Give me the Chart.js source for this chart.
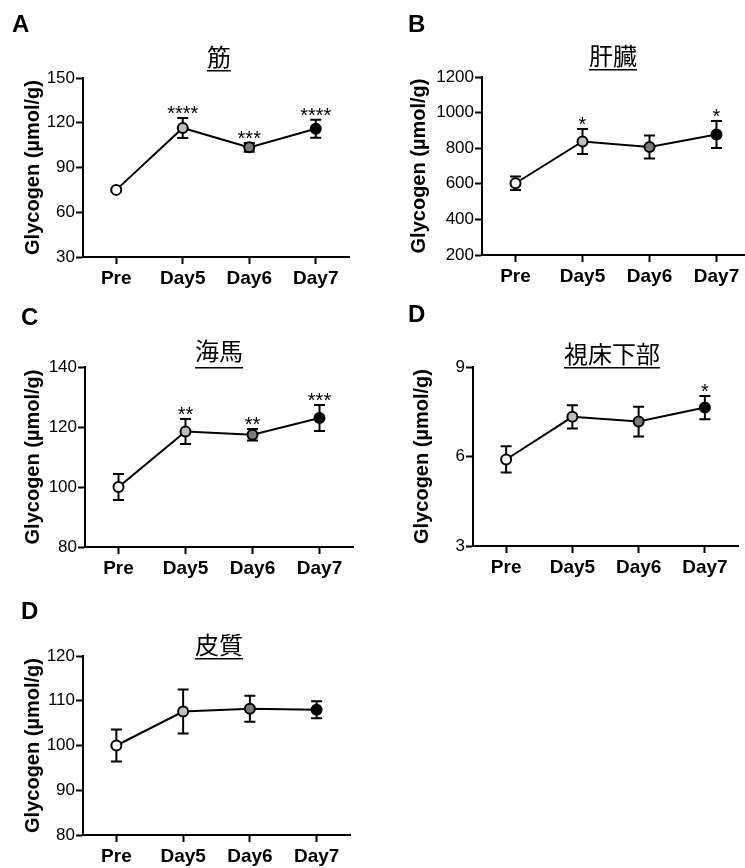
<!DOCTYPE html>
<html lang="ja">
<head>
<meta charset="UTF-8">
<title>Glycogen time course</title>
<script src="https://cdn.jsdelivr.net/npm/chart.js"></script>
<style>
  html, body { margin: 0; padding: 0; background: #fff; overflow: hidden; }
  body { width: 745px; height: 868px; position: relative; }
  canvas { position: absolute; }
</style>
</head>
<body>
<canvas id="chartA" width="372" height="290" style="left:0;top:0"></canvas>
<canvas id="chartB" width="400" height="290" style="left:372px;top:0"></canvas>
<canvas id="chartC" width="372" height="290" style="left:0;top:290px"></canvas>
<canvas id="chartD" width="373" height="290" style="left:372px;top:290px"></canvas>
<canvas id="chartE" width="372" height="288" style="left:0;top:580px"></canvas>

<script>
// shared
const categories = ['Pre', 'Day5', 'Day6', 'Day7'];
const pointColors = ['#ffffff', '#bebebe', '#7a7a7a', '#000000'];

// A: 筋
const muscleMean = [75, 116.5, 103.5, 116];
const muscleErr = [1, 6.7, 3, 6];
const muscleStars = ['', '****', '***', '****'];
const muscleTicks = [30, 60, 90, 120, 150];

// B: 肝臓
const liverMean = [603, 838, 807, 877];
const liverErr = [38, 70, 65, 76];
const liverStars = ['', '*', '', '*'];
const liverTicks = [200, 400, 600, 800, 1000, 1200];

// C: 海馬
const hippoMean = [100, 118.5, 117.4, 123];
const hippoErr = [4.3, 4.2, 1.9, 4.3];
const hippoStars = ['', '**', '**', '***'];
const hippoTicks = [80, 100, 120, 140];

// D: 視床下部
const hypoMean = [5.9, 7.33, 7.17, 7.64];
const hypoErr = [0.44, 0.39, 0.5, 0.39];
const hypoStars = ['', '', '', '*'];
const hypoTicks = [3, 6, 9];

// D (second): 皮質
const cortexMean = [100, 107.6, 108.2, 108];
const cortexErr = [3.6, 4.9, 2.9, 1.9];
const cortexStars = ['', '', '', ''];
const cortexTicks = [80, 90, 100, 110, 120];

const SANS = '"Liberation Sans", Arial, sans-serif';
const CJK = '"Noto Sans CJK JP", sans-serif';

// error bars + significance stars, drawn under the points
const errorBars = {
  id: 'errorBars',
  beforeDatasetsDraw(chart, args, opts) {
    const { ctx, scales: { x, y } } = chart;
    const values = chart.data.datasets[0].data;
    ctx.save();
    ctx.strokeStyle = '#000';
    ctx.lineWidth = 2;
    ctx.font = '20px ' + SANS;
    ctx.fillStyle = '#000';
    ctx.textAlign = 'center';
    ctx.textBaseline = 'alphabetic';
    values.forEach((v, i) => {
      const e = opts.errors[i];
      const px = x.getPixelForValue(i);
      const top = y.getPixelForValue(v + e);
      const bot = y.getPixelForValue(v - e);
      ctx.beginPath();
      ctx.moveTo(px, top); ctx.lineTo(px, bot);
      ctx.moveTo(px - 5.5, top); ctx.lineTo(px + 5.5, top);
      ctx.moveTo(px - 5.5, bot); ctx.lineTo(px + 5.5, bot);
      ctx.stroke();
      if (opts.stars[i]) ctx.fillText(opts.stars[i], px, top + 2);
    });
    ctx.restore();
  }
};

// panel letter and underlined title
const panelText = {
  id: 'panelText',
  afterDraw(chart, args, opts) {
    const ctx = chart.ctx;
    ctx.save();
    ctx.fillStyle = '#000';
    ctx.font = 'bold 24px ' + SANS;
    ctx.textAlign = 'left';
    ctx.textBaseline = 'alphabetic';
    ctx.fillText(opts.letter, opts.letterX, opts.letterY);
    ctx.font = '24px ' + CJK;
    ctx.textAlign = 'center';
    ctx.fillText(opts.title, opts.titleX, opts.titleY);
    const w = ctx.measureText(opts.title).width;
    ctx.fillRect(opts.titleX - w / 2, opts.lineY, w, 1.5);
    ctx.restore();
  }
};

function makePanel(id, mean, err, stars, ticks, box) {
  new Chart(document.getElementById(id), {
    type: 'line',
    data: {
      labels: categories,
      datasets: [{
        data: mean,
        borderColor: '#000',
        borderWidth: 2,
        tension: 0,
        pointRadius: 5,
        pointHoverRadius: 5,
        pointBorderWidth: 2,
        pointBorderColor: '#000',
        pointBackgroundColor: pointColors
      }]
    },
    options: {
      responsive: false,
      animation: false,
      events: [],
      layout: { padding: { left: 0, top: box.top, right: box.padRight, bottom: 0 } },
      scales: {
        x: {
          type: 'category',
          offset: true,
          afterFit: s => { s.height = box.xHeight; },
          border: { display: true, color: '#000', width: 2 },
          grid: { display: true, drawOnChartArea: false, drawTicks: true, tickLength: 7, tickWidth: 2, tickColor: '#000' },
          ticks: { color: '#000', padding: 3, maxRotation: 0, font: { family: SANS, size: 19, weight: 'bold' } }
        },
        y: {
          min: ticks[0],
          max: ticks[ticks.length - 1],
          afterFit: s => { s.width = box.left; },
          afterBuildTicks: s => { s.ticks = ticks.map(v => ({ value: v })); },
          border: { display: true, color: '#000', width: 2 },
          grid: { display: true, drawOnChartArea: false, drawTicks: true, tickLength: 7, tickWidth: 2, tickColor: '#000' },
          ticks: { color: '#000', padding: 1, callback: v => String(v), font: { family: SANS, size: 17 } },
          title: {
            display: true,
            text: 'Glycogen (µmol/g)',
            color: '#000',
            padding: { top: box.yTitle - 12, bottom: 0 },
            font: { family: SANS, size: 20, weight: 'bold' }
          }
        }
      },
      plugins: {
        legend: { display: false },
        tooltip: { enabled: false },
        errorBars: { errors: err, stars: stars },
        panelText: box.text
      }
    },
    plugins: [errorBars, panelText]
  });
}

makePanel('chartA', muscleMean, muscleErr, muscleStars, muscleTicks,
  { left: 83, top: 78, padRight: 23, xHeight: 33, yTitle: 33,
    text: { letter: 'A', letterX: 12, letterY: 32, title: '筋', titleX: 219, titleY: 66, lineY: 70 } });

makePanel('chartB', liverMean, liverErr, liverStars, liverTicks,
  { left: 110, top: 77, padRight: 22, xHeight: 35, yTitle: 47,
    text: { letter: 'B', letterX: 36, letterY: 32, title: '肝臓', titleX: 241, titleY: 65, lineY: 69 } });

makePanel('chartC', hippoMean, hippoErr, hippoStars, hippoTicks,
  { left: 85, top: 77, padRight: 19, xHeight: 33, yTitle: 33,
    text: { letter: 'C', letterX: 21, letterY: 35, title: '海馬', titleX: 219, titleY: 70, lineY: 77 } });

makePanel('chartD', hypoMean, hypoErr, hypoStars, hypoTicks,
  { left: 101, top: 77, padRight: 5, xHeight: 34, yTitle: 50,
    text: { letter: 'D', letterX: 36, letterY: 32, title: '視床下部', titleX: 240, titleY: 73, lineY: 77 } });

makePanel('chartE', cortexMean, cortexErr, cortexStars, cortexTicks,
  { left: 83, top: 76, padRight: 22, xHeight: 33, yTitle: 33,
    text: { letter: 'D', letterX: 21, letterY: 39, title: '皮質', titleX: 219, titleY: 74, lineY: 78 } });
</script>
</body>
</html>
